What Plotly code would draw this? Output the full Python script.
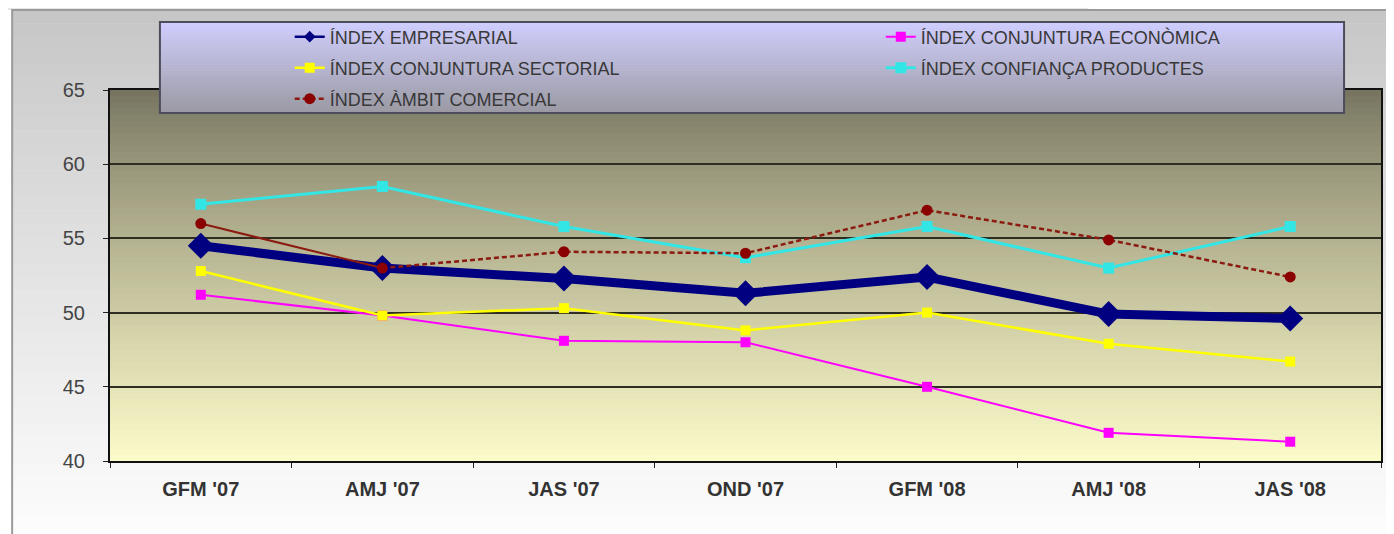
import plotly.graph_objects as go

# ---------------- data ----------------
categories = ["GFM '07", "AMJ '07", "JAS '07", "OND '07", "GFM '08", "AMJ '08", "JAS '08"]
idx_empresarial = [54.5, 53.0, 52.3, 51.3, 52.4, 49.9, 49.6]
idx_economica = [51.2, 49.8, 48.1, 48.0, 45.0, 41.9, 41.3]
idx_sectorial = [52.8, 49.8, 50.3, 48.8, 50.0, 47.9, 46.7]
idx_confianca = [57.3, 58.5, 55.8, 53.7, 55.8, 53.0, 55.8]
idx_comercial = [56.0, 53.0, 54.1, 54.0, 56.9, 54.9, 52.4]
y_ticks = [40, 45, 50, 55, 60, 65]

names = {
    "emp": "ÍNDEX EMPRESARIAL",
    "eco": "ÍNDEX CONJUNTURA ECONÒMICA",
    "sec": "ÍNDEX CONJUNTURA SECTORIAL",
    "con": "ÍNDEX CONFIANÇA PRODUCTES",
    "com": "ÍNDEX ÀMBIT COMERCIAL",
}

# ---------------- layout geometry (page pixels) ----------------
OFF = 8                       # browser body margin
W, H = 1394 - OFF, 534 - OFF  # figure size
L, R, T, B = 110, 1383, 90, 461   # plot area in page pixels
FONT = "Liberation Sans, Arial, sans-serif"


def px_x(p):
    return (p - L) / (R - L)


def px_y(p):
    return (B - p) / (B - T)


def hex2rgb(h):
    h = h.lstrip("#")
    return [int(h[i:i + 2], 16) for i in (0, 2, 4)]


def lerp(c1, c2, t):
    a, b = hex2rgb(c1), hex2rgb(c2)
    return "rgb(%d,%d,%d)" % tuple(round(a[i] + (b[i] - a[i]) * t) for i in range(3))


shapes = []

# light strip above the frame
shapes.append(dict(type="rect", xref="paper", yref="paper", x0=px_x(0), x1=px_x(1090),
                   y0=px_y(10), y1=px_y(0), fillcolor="#e6e6e6", line_width=0, layer="below"))

# outer frame gradient
n = 40
for i in range(n):
    y0 = 10 + (H + OFF) * i / n
    y1 = 10 + (H + OFF) * (i + 1) / n
    shapes.append(dict(type="rect", xref="paper", yref="paper",
                       x0=px_x(12), x1=px_x(1400), y0=px_y(y1 + 0.5), y1=px_y(y0),
                       fillcolor=lerp("#c6c6c6", "#fdfdfd", (i / (n - 1)) ** 0.9),
                       line_width=0, layer="below"))
shapes.append(dict(type="rect", xref="paper", yref="paper",
                   x0=px_x(12), x1=px_x(1420), y0=px_y(560), y1=px_y(10),
                   fillcolor="rgba(0,0,0,0)", line=dict(color="#9a9a9a", width=2), layer="below"))

# plot-area gradient
n = 60
for i in range(n):
    shapes.append(dict(type="rect", xref="x domain", yref="y domain",
                       x0=0, x1=1, y0=1 - (i + 1) / n - 0.002, y1=1 - i / n,
                       fillcolor=lerp("#777560", "#fbfac9", (i / (n - 1)) ** 0.85),
                       line_width=0, layer="below"))

# legend box gradient
LX0, LX1, LY0, LY1 = 160, 1346, 22, 113
n = 30
for i in range(n):
    y0 = LY0 + (LY1 - LY0) * i / n
    y1 = LY0 + (LY1 - LY0) * (i + 1) / n
    shapes.append(dict(type="rect", xref="paper", yref="paper",
                       x0=px_x(LX0), x1=px_x(LX1), y0=px_y(y1 + 0.3), y1=px_y(y0),
                       fillcolor=lerp("#cfcdfd", "#9b9aa4", i / (n - 1)),
                       line_width=0, layer="above"))
shapes.append(dict(type="rect", xref="paper", yref="paper",
                   x0=px_x(LX0), x1=px_x(LX1), y0=px_y(LY1), y1=px_y(LY0),
                   fillcolor="rgba(0,0,0,0)", line=dict(color="#4c4c5c", width=2), layer="above"))

fig = go.Figure()

fig.add_trace(go.Scatter(
    x=categories, y=idx_empresarial, name=names["emp"], mode="lines+markers",
    line=dict(color="#000080", width=9), showlegend=False,
    marker=dict(symbol="diamond", size=20, color="#000080")))
# legend entry for the main index (thin line, small diamond as in the original key)
fig.add_trace(go.Scatter(
    x=[None], y=[None], name=names["emp"], mode="lines+markers", legend="legend",
    line=dict(color="#000080", width=2.5),
    marker=dict(symbol="diamond", size=9, color="#000080")))

fig.add_trace(go.Scatter(
    x=categories, y=idx_economica, name=names["eco"], mode="lines+markers",
    line=dict(color="#ff00ff", width=2), legend="legend2",
    marker=dict(symbol="square", size=10, color="#ff00ff")))

fig.add_trace(go.Scatter(
    x=categories, y=idx_sectorial, name=names["sec"], mode="lines+markers",
    line=dict(color="#ffff00", width=2.5), legend="legend3",
    marker=dict(symbol="square", size=10, color="#ffff00")))

fig.add_trace(go.Scatter(
    x=categories, y=idx_confianca, name=names["con"], mode="lines+markers",
    line=dict(color="#33e6e6", width=3), legend="legend4",
    marker=dict(symbol="square", size=11, color="#33e6e6")))

# first segment of the commercial index is drawn solid in the original
fig.add_trace(go.Scatter(
    x=categories[:2], y=idx_comercial[:2], mode="lines", showlegend=False,
    hoverinfo="skip", line=dict(color="#8b1a10", width=2)))

fig.add_trace(go.Scatter(
    x=categories[1:], y=idx_comercial[1:], name=names["com"], mode="lines+markers",
    line=dict(color="#8b1a10", width=2.5, dash="5px,3px"),
    marker=dict(symbol="circle", size=11, color="#8b0000"), showlegend=False))

fig.add_trace(go.Scatter(
    x=categories[:1], y=idx_comercial[:1], name=names["com"], mode="lines+markers",
    line=dict(color="#8b1a10", width=2.5, dash="5px,3px"), legend="legend5",
    marker=dict(symbol="circle", size=11, color="#8b0000")))


def legend_at(text_x, row_y):
    return dict(
        orientation="h", x=px_x(text_x - 40), y=px_y(row_y),
        xanchor="left", yanchor="middle",
        bgcolor="rgba(0,0,0,0)", borderwidth=0,
        font=dict(family=FONT, size=18, color="#383838"),
    )


fig.update_layout(
    width=W, height=H,
    margin=dict(l=L - OFF, r=(W + OFF) - R, t=T - OFF, b=(H + OFF) - B),
    paper_bgcolor="white",
    plot_bgcolor="rgba(0,0,0,0)",
    font=dict(family=FONT, color="#333333"),
    showlegend=True,
    legend=legend_at(330, 37),
    legend2=legend_at(922, 37),
    legend3=legend_at(330, 68),
    legend4=legend_at(922, 68),
    legend5=legend_at(330, 99),
    shapes=shapes,
    xaxis=dict(
        type="category", range=[-0.5, 6.5], tickson="boundaries",
        ticks="outside", ticklen=5, tickcolor="#222222",
        showline=True, mirror=True, linecolor="#111111", linewidth=2,
        showgrid=False, zeroline=False,
        tickfont=dict(family=FONT, size=20, color="#333333", weight="bold"),
        ticklabelstandoff=9,
    ),
    yaxis=dict(
        range=[40, 65], tickvals=y_ticks,
        ticks="outside", ticklen=5, tickcolor="#222222",
        showline=True, mirror=True, linecolor="#111111", linewidth=2,
        showgrid=True, gridcolor="#2e2e22", gridwidth=1.5, zeroline=False,
        tickfont=dict(family=FONT, size=20, color="#444444"),
        ticklabelstandoff=14,
    ),
)

fig.write_html("out.html")
